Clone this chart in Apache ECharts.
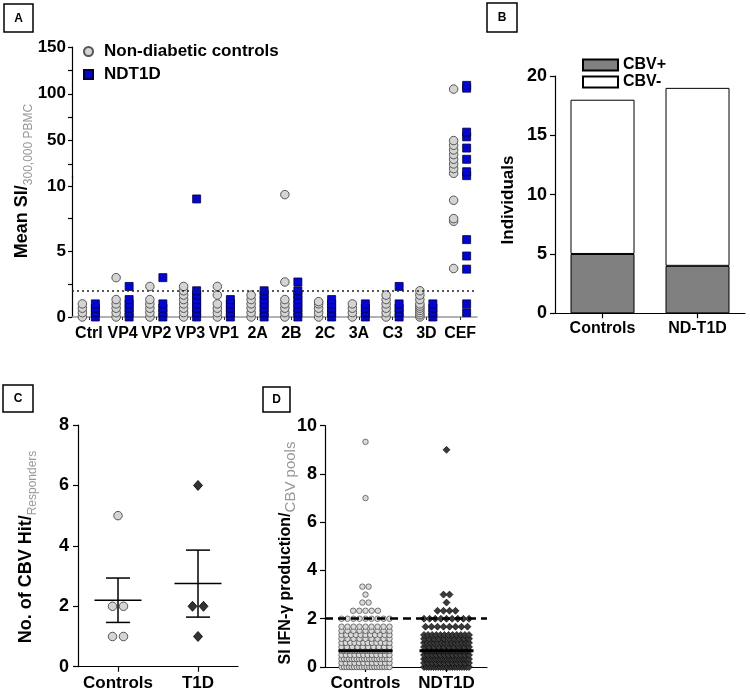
<!DOCTYPE html>
<html><head><meta charset="utf-8">
<script src="https://cdn.jsdelivr.net/npm/echarts@6/dist/echarts.min.js"></script>
<style>html,body{margin:0;padding:0;background:#fff}#c{width:750px;height:694px}</style>
</head><body><div id="c"></div>
<script>
const FONT = "'Liberation Sans', Arial, sans-serif";

// ---------- Panel A data ----------
const catsA = ['Ctrl','VP4','VP2','VP3','VP1','2A','2B','2C','3A','C3','3D','CEF'];
const ctrlA = [
  [0,0.33,0.67,1.0],
  [0,0.33,0.67,1.0,1.33,3.0],
  [0,0.33,0.67,1.0,1.33,2.33],
  [0,0.33,0.67,1.0,1.33,1.67,2.0,2.33],
  [0,0.33,0.67,1.0,1.67,2.33],
  [0,0.33,0.67,1.0,1.33,1.67],
  [0,0.33,0.67,1.0,1.33,2.67,9.33],
  [0,0.33,0.67,1.0,1.17],
  [0,0.33,0.67,1.0],
  [0,0.33,0.67,1.0,1.33,1.67],
  [0,0.17,0.33,0.5,0.67,0.83,1.0,1.33,1.67,2.0],
  [3.7,7.3,7.5,8.9,15,20,25,30,35,40,45,50,105]
];
const t1dA = [
  [0,0.33,0.67,1.0],
  [0,0.33,0.67,1.0,1.33,2.33],
  [0,0.33,0.67,1.0,3.0],
  [0,0.33,0.67,1.0,1.33,1.67,2.0,9.0],
  [0,0.33,0.67,1.0,1.33],
  [0,0.33,0.67,1.0,1.33,1.67,2.0],
  [0,0.33,0.67,1.0,1.33,1.67,2.0,2.67],
  [0,0.33,0.67,1.0,1.33],
  [0,0.33,0.67,1.0],
  [0,0.33,0.67,1.0,2.33],
  [0,0.33,0.67,1.0],
  [0.33,1.0,3.65,4.65,5.9,12.5,16.7,30,42,54,59,106,109]
];
const yTicksAUpper = [25,50,75,100,125,150];
const yLabelsAUpper = [50,100,150];
const yTicksALower = [0,2.5,5,7.5,10];
const yLabelsALower = [0,5,10];
const thresholdA = 2;

// ---------- Panel B data ----------
const catsB = ['Controls','ND-T1D'];
const cbvPos = [5,4];
const cbvNeg = [13,15];

// ---------- Panel C data ----------
const catsC = ['Controls','T1D'];
const hitsCtrl = [5,2,2,1,1];
const hitsT1D = [6,2,2,1];

// ---------- Panel D data ----------
const catsD = ['Controls','NDT1D'];
const dLevelsCtrl = [0,0.17,0.33,0.5,0.67,0.83,1.0,1.17,1.33,1.5,1.67,2.0,2.33,2.67,3.0,3.33,7.0,9.33];
const dCountsCtrl = [20,12,20,12,20,10,12,9,11,9,9,9,5,2,1,2,1,1];
const dLevelsT1D = [0,0.17,0.33,0.5,0.67,0.83,1.0,1.17,1.33,1.67,2.0,2.33,2.67,3.0,9.0];
const dCountsT1D = [20,12,20,12,20,10,14,10,12,8,9,4,1,2,1];
const thresholdD = 2;

// ---------- helpers ----------
const BREAK = 10.75;
function splitA(arr, upper) {
  const out = [];
  arr.forEach((vals, i) => vals.forEach(v => {
    if ((v > BREAK) === upper) out.push([i, v]);
  }));
  return out;
}
function spreadDup(vals, cat, step) {
  const out = [];
  const groups = {};
  vals.forEach(v => { (groups[v] = groups[v] || []).push(v); });
  Object.keys(groups).forEach(k => {
    const n = groups[k].length;
    groups[k].forEach((v, j) => out.push({ value: [cat, v], symbolOffset: [(j - (n - 1) / 2) * step, 0] }));
  });
  return out;
}
function swarm(levels, counts, cat, spacing, maxW) {
  const out = [];
  levels.forEach((v, k) => {
    const n = counts[k];
    const step = n > 1 ? Math.min(spacing, maxW / (n - 1)) : 0;
    for (let j = 0; j < n; j++) out.push({ value: [cat, v], symbolOffset: [(j - (n - 1) / 2) * step, 0] });
  });
  return out;
}
function expand(levels, counts) {
  const out = [];
  levels.forEach((v, k) => { for (let j = 0; j < counts[k]; j++) out.push(v); });
  return out;
}
function mean(a) { return a.reduce((s, x) => s + x, 0) / a.length; }
function sem(a) {
  const m = mean(a);
  const sd = Math.sqrt(a.reduce((s, x) => s + (x - m) * (x - m), 0) / (a.length - 1));
  return sd / Math.sqrt(a.length);
}
function median(a) {
  const s = a.slice().sort((x, y) => x - y);
  const n = s.length;
  return n % 2 ? s[(n - 1) / 2] : (s[n / 2 - 1] + s[n / 2]) / 2;
}

const statsC = [hitsCtrl, hitsT1D].map((a, i) => [i, mean(a), mean(a) - sem(a), mean(a) + sem(a)]);
const medD = [[0, median(expand(dLevelsCtrl, dCountsCtrl))], [1, median(expand(dLevelsT1D, dCountsT1D))]];

const bold = (size) => ({ fontFamily: FONT, fontWeight: 'bold', fontSize: size, color: '#000' });
const axLine = { show: true, lineStyle: { color: '#000', width: 1.2 } };
const axTick = { show: true, length: 5, lineStyle: { color: '#000', width: 1.2 } };

const ctrlStyle = { color: '#d4d4d4', borderColor: '#555', borderWidth: 1, opacity: 1 };
const t1dStyleA = { color: '#0505d0', borderColor: '#000040', borderWidth: 0.8, opacity: 1 };

const option = {
  animation: false,
  backgroundColor: '#fff',
  textStyle: { fontFamily: FONT },
  grid: [
    { left: 72, top: 176, width: 405, height: 141, outerBoundsMode: 'none' },   // A lower
    { left: 72, top: 47, width: 405, height: 131, outerBoundsMode: 'none' },    // A upper
    { left: 555, top: 76, width: 190, height: 237.3, outerBoundsMode: 'none' }, // B
    { left: 78, top: 425, width: 160, height: 241.7, outerBoundsMode: 'none' }, // C
    { left: 325, top: 425.7, width: 162, height: 241.3, outerBoundsMode: 'none' } // D
  ],
  xAxis: [
    { gridIndex: 0, type: 'category', data: catsA, boundaryGap: true,
      axisLine: { show: true, lineStyle: { color: '#999', width: 1.5 } },
      axisTick: { show: true, alignWithLabel: true, length: 3, lineStyle: { color: '#333' } },
      axisLabel: Object.assign(bold(16), { margin: 9, interval: 0, hideOverlap: false }) },
    { gridIndex: 1, type: 'category', data: catsA, show: false },
    { gridIndex: 2, type: 'category', data: catsB, axisLine: axLine,
      axisTick: Object.assign({ alignWithLabel: true }, axTick),
      axisLabel: Object.assign(bold(16), { margin: 7, interval: 0 }) },
    { gridIndex: 3, type: 'category', data: catsC, axisLine: axLine,
      axisTick: Object.assign({ alignWithLabel: true }, axTick),
      axisLabel: Object.assign(bold(17), { margin: 8, interval: 0 }) },
    { gridIndex: 4, type: 'category', data: catsD, axisLine: axLine,
      axisTick: Object.assign({ alignWithLabel: true }, axTick),
      axisLabel: Object.assign(bold(17), { margin: 8, interval: 0 }) }
  ],
  yAxis: [
    { gridIndex: 0, type: 'value', min: 0, max: BREAK, splitLine: { show: false },
      axisLine: axLine,
      axisTick: Object.assign({ customValues: yTicksALower }, axTick, { length: 4 }),
      axisLabel: Object.assign(bold(17), { customValues: yLabelsALower, margin: 6 }) },
    { gridIndex: 1, type: 'value', min: 10, max: 150, splitLine: { show: false },
      axisLine: axLine,
      axisTick: Object.assign({ customValues: yTicksAUpper }, axTick, { length: 4 }),
      axisLabel: Object.assign(bold(17), { customValues: yLabelsAUpper, margin: 6 }) },
    { gridIndex: 2, type: 'value', min: 0, max: 20, interval: 5, splitLine: { show: false },
      axisLine: axLine, axisTick: axTick,
      axisLabel: Object.assign(bold(18), { margin: 8 }) },
    { gridIndex: 3, type: 'value', min: 0, max: 8, interval: 2, splitLine: { show: false },
      axisLine: axLine, axisTick: axTick,
      axisLabel: Object.assign(bold(18), { margin: 9 }) },
    { gridIndex: 4, type: 'value', min: 0, max: 10, interval: 2, splitLine: { show: false },
      axisLine: axLine, axisTick: axTick,
      axisLabel: Object.assign(bold(18), { margin: 8 }) }
  ],
  legend: [
    { data: [{ name: 'Non-diabetic controls', icon: 'circle' }, { name: 'NDT1D', icon: 'rect' }],
      orient: 'vertical', left: 78, top: 38,
      itemWidth: 9, itemHeight: 9, itemGap: 6,
      textStyle: Object.assign(bold(17), { padding: [0, 0, 0, 6] }), selectedMode: false },
    { data: [{ name: 'CBV+', icon: 'rect' }, { name: 'CBV-', icon: 'rect' }],
      orient: 'vertical', left: 577, top: 52,
      itemWidth: 35, itemHeight: 11, itemGap: 1, textStyle: bold(16), selectedMode: false }
  ],
  series: [
    // Panel A
    { name: 'Non-diabetic controls', type: 'scatter', xAxisIndex: 0, yAxisIndex: 0,
      data: splitA(ctrlA, false), symbol: 'circle', symbolSize: 8.5, symbolOffset: [-6.5, 0],
      itemStyle: ctrlStyle, z: 3,
      markLine: { silent: true, symbol: 'none', label: { show: false },
        lineStyle: { type: [2, 3], color: '#222', width: 1.5 }, data: [{ yAxis: thresholdA }] } },
    { name: 'NDT1D', type: 'scatter', xAxisIndex: 0, yAxisIndex: 0,
      data: splitA(t1dA, false), symbol: 'rect', symbolSize: 8, symbolOffset: [6.5, 0],
      itemStyle: t1dStyleA, z: 3 },
    { name: 'Non-diabetic controls', type: 'scatter', xAxisIndex: 1, yAxisIndex: 1,
      data: splitA(ctrlA, true), symbol: 'circle', symbolSize: 8.5, symbolOffset: [-6.5, 0],
      itemStyle: ctrlStyle, z: 3 },
    { name: 'NDT1D', type: 'scatter', xAxisIndex: 1, yAxisIndex: 1,
      data: splitA(t1dA, true), symbol: 'rect', symbolSize: 8, symbolOffset: [6.5, 0],
      itemStyle: t1dStyleA, z: 3 },
    // Panel B
    { name: 'CBV+', type: 'bar', xAxisIndex: 2, yAxisIndex: 2, stack: 'b', data: cbvPos,
      barWidth: 64, itemStyle: { color: '#808080', borderColor: '#000', borderWidth: 1 } },
    { name: 'CBV-', type: 'bar', xAxisIndex: 2, yAxisIndex: 2, stack: 'b', data: cbvNeg,
      barWidth: 64, itemStyle: { color: '#fff', borderColor: '#000', borderWidth: 1 } },
    // Panel C
    { name: 'hitsCtrl', type: 'scatter', xAxisIndex: 3, yAxisIndex: 3,
      data: spreadDup(hitsCtrl, 0, 11), symbol: 'circle', symbolSize: 8.5,
      itemStyle: { color: '#d4d4d4', borderColor: '#555', borderWidth: 1, opacity: 1 }, z: 3 },
    { name: 'hitsT1D', type: 'scatter', xAxisIndex: 3, yAxisIndex: 3,
      data: spreadDup(hitsT1D, 1, 11), symbol: 'diamond', symbolSize: [9, 10],
      itemStyle: { color: '#333', borderColor: '#000', borderWidth: 0.8, opacity: 1 }, z: 3 },
    { name: 'statsC', type: 'custom', xAxisIndex: 3, yAxisIndex: 3, data: statsC, z: 4,
      renderItem: function (params, api) {
        const c = api.coord([api.value(0), api.value(1)]);
        const lo = api.coord([api.value(0), api.value(2)]);
        const hi = api.coord([api.value(0), api.value(3)]);
        const st = { stroke: '#000', lineWidth: 1.5 };
        return { type: 'group', children: [
          { type: 'line', shape: { x1: c[0] - 23.5, y1: c[1], x2: c[0] + 23.5, y2: c[1] }, style: st },
          { type: 'line', shape: { x1: c[0], y1: lo[1], x2: c[0], y2: hi[1] }, style: st },
          { type: 'line', shape: { x1: c[0] - 12, y1: lo[1], x2: c[0] + 12, y2: lo[1] }, style: st },
          { type: 'line', shape: { x1: c[0] - 12, y1: hi[1], x2: c[0] + 12, y2: hi[1] }, style: st }
        ] };
      } },
    // Panel D
    { name: 'dCtrl', type: 'scatter', xAxisIndex: 4, yAxisIndex: 4,
      data: swarm(dLevelsCtrl, dCountsCtrl, 0, 6.2, 48), symbol: 'circle', symbolSize: 5.5,
      itemStyle: { color: '#dadada', borderColor: '#444', borderWidth: 0.7, opacity: 1 }, z: 3,
      markLine: { silent: true, symbol: 'none', label: { show: false }, z: 10,
        lineStyle: { type: [8, 5], color: '#000', width: 2.5 }, data: [{ yAxis: thresholdD }] } },
    { name: 'dT1D', type: 'scatter', xAxisIndex: 4, yAxisIndex: 4,
      data: swarm(dLevelsT1D, dCountsT1D, 1, 6, 45), symbol: 'diamond', symbolSize: 7,
      itemStyle: { color: '#3a3a3a', borderColor: '#000', borderWidth: 0.6, opacity: 1 }, z: 3 },
    { name: 'medD', type: 'custom', xAxisIndex: 4, yAxisIndex: 4, data: medD, z: 5,
      renderItem: function (params, api) {
        const c = api.coord([api.value(0), api.value(1)]);
        return { type: 'line', shape: { x1: c[0] - 27, y1: c[1], x2: c[0] + 27, y2: c[1] },
          style: { stroke: '#000', lineWidth: 3 } };
      } }
  ],
  graphic: [
    // Panel boxes
    { type: 'rect', shape: { x: 4, y: 4, width: 29, height: 28 }, style: { fill: '#fff', stroke: '#000', lineWidth: 1.5 } },
    { type: 'text', x: 18.5, y: 18.5, style: { text: 'A', font: 'bold 12px ' + FONT, fill: '#000', align: 'center', verticalAlign: 'middle', textAlign: 'center', textVerticalAlign: 'middle' } },
    { type: 'rect', shape: { x: 487, y: 3, width: 30, height: 29 }, style: { fill: '#fff', stroke: '#000', lineWidth: 1.5 } },
    { type: 'text', x: 502, y: 18, style: { text: 'B', font: 'bold 12px ' + FONT, fill: '#000', align: 'center', verticalAlign: 'middle', textAlign: 'center', textVerticalAlign: 'middle' } },
    { type: 'rect', shape: { x: 3, y: 385, width: 30, height: 27 }, style: { fill: '#fff', stroke: '#000', lineWidth: 1.5 } },
    { type: 'text', x: 18, y: 399, style: { text: 'C', font: 'bold 12px ' + FONT, fill: '#000', align: 'center', verticalAlign: 'middle', textAlign: 'center', textVerticalAlign: 'middle' } },
    { type: 'rect', shape: { x: 263, y: 387, width: 27, height: 25 }, style: { fill: '#fff', stroke: '#000', lineWidth: 1.5 } },
    { type: 'text', x: 276.5, y: 400, style: { text: 'D', font: 'bold 12px ' + FONT, fill: '#000', align: 'center', verticalAlign: 'middle', textAlign: 'center', textVerticalAlign: 'middle' } },
    // Axis titles
    { type: 'text', x: 22, y: 181, rotation: Math.PI / 2,
      style: { text: '{a|Mean SI/}{b|300,000 PBMC}', align: 'center', verticalAlign: 'middle', textAlign: 'center', textVerticalAlign: 'middle',
        rich: { a: { fontFamily: FONT, fontWeight: 'bold', fontSize: 18, fill: '#000', color: '#000', lineHeight: 26 },
                b: { fontFamily: FONT, fontSize: 12, fill: '#999', color: '#999', lineHeight: 12, verticalAlign: 'bottom' } } } },
    { type: 'text', x: 508.5, y: 200, rotation: Math.PI / 2,
      style: { text: 'Individuals', font: 'bold 17px ' + FONT, fill: '#000', align: 'center', verticalAlign: 'middle', textAlign: 'center', textVerticalAlign: 'middle' } },
    { type: 'text', x: 26, y: 547, rotation: Math.PI / 2,
      style: { text: '{a|No. of CBV Hit/}{b|Responders}', align: 'center', verticalAlign: 'middle', textAlign: 'center', textVerticalAlign: 'middle',
        rich: { a: { fontFamily: FONT, fontWeight: 'bold', fontSize: 18, fill: '#000', color: '#000', lineHeight: 26 },
                b: { fontFamily: FONT, fontSize: 12, fill: '#999', color: '#999', lineHeight: 12, verticalAlign: 'bottom' } } } },
    { type: 'text', x: 286, y: 553, rotation: Math.PI / 2,
      style: { text: '{a|SI IFN-γ production/}{b|CBV pools}', align: 'center', verticalAlign: 'middle', textAlign: 'center', textVerticalAlign: 'middle',
        rich: { a: { fontFamily: FONT, fontWeight: 'bold', fontSize: 16, fill: '#000', color: '#000', lineHeight: 24 },
                b: { fontFamily: FONT, fontSize: 15, fill: '#999', color: '#999', lineHeight: 12, verticalAlign: 'bottom' } } } }
  ]
};

const chart = echarts.init(document.getElementById('c'), null, { renderer: 'canvas' });
chart.setOption(option);
</script>
</body></html>
